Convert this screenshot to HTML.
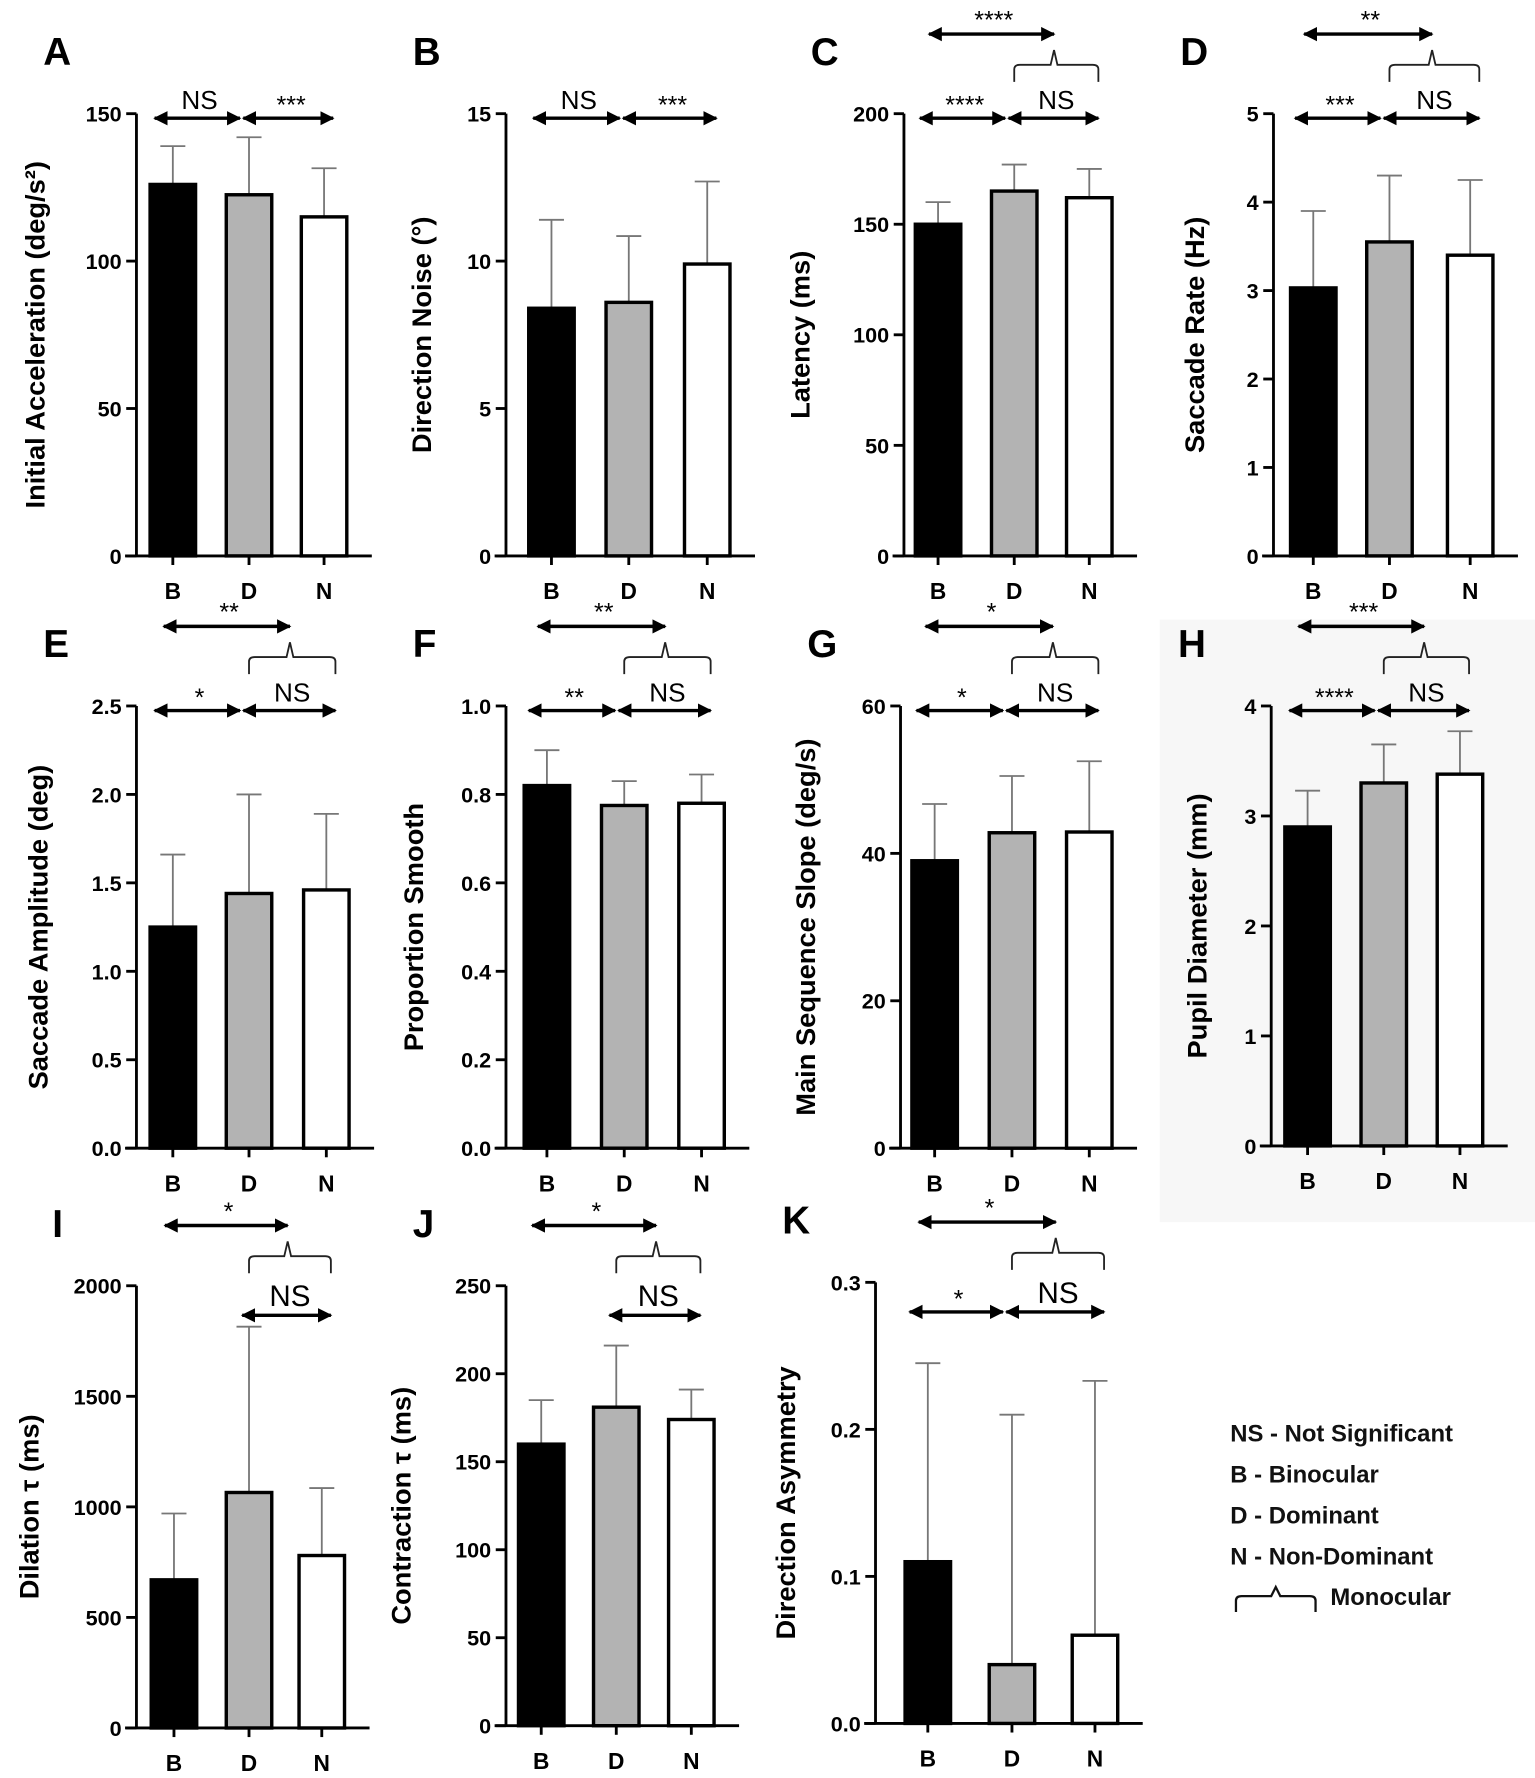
<!DOCTYPE html>
<html><head><meta charset="utf-8"><style>
html,body{margin:0;padding:0;background:#fff;}
svg{display:block;font-family:"Liberation Sans",Arial,sans-serif;}
</style></head><body>
<svg id="fig" width="1535" height="1778" viewBox="0 0 1350 1564" preserveAspectRatio="none" xmlns="http://www.w3.org/2000/svg">
<defs>
<marker id="ah" viewBox="0 0 10 10" refX="9" refY="5" markerWidth="4.2" markerHeight="4.2" orient="auto-start-reverse"><path d="M0,0 L10,5 L0,10 Z" fill="#000"/></marker>
</defs>
<rect x="1020" y="545" width="330" height="530" fill="#f7f7f7"/>
<g id="legend" font-weight="bold" font-size="21" fill="#111">
<text x="1082" y="1268">NS - Not Significant</text>
<text x="1082" y="1304">B - Binocular</text>
<text x="1082" y="1340">D - Dominant</text>
<text x="1082" y="1376">N - Non-Dominant</text>
<path d="M1087,1418 L1087,1408 Q1087,1404 1092,1404 L1118,1404 L1122,1396 L1126,1404 L1152,1404 Q1157,1404 1157,1408 L1157,1418" fill="none" stroke="#111" stroke-width="2"/>
<text x="1170" y="1412">Monocular</text>
</g>
</svg>
<script>
// Data arrays (means and upper error-bar values) per panel
const categories = ['B','D','N'];
const meansA = [126, 122.5, 115];   const errTopA = [139, 142, 131.5];
const meansB = [8.4, 8.6, 9.9];     const errTopB = [11.4, 10.85, 12.7];
const meansC = [150, 165, 162];     const errTopC = [160, 177, 175];
const meansD = [3.03, 3.55, 3.4];   const errTopD = [3.9, 4.3, 4.25];
const meansE = [1.25, 1.44, 1.46];  const errTopE = [1.66, 2.0, 1.89];
const meansF = [0.82, 0.775, 0.78]; const errTopF = [0.90, 0.83, 0.845];
const meansG = [39, 42.8, 42.9];    const errTopG = [46.7, 50.5, 52.5];
const meansH = [2.9, 3.3, 3.38];    const errTopH = [3.23, 3.65, 3.77];
const meansI = [670, 1065, 780];    const errTopI = [970, 1815, 1085];
const meansJ = [160, 181, 174];     const errTopJ = [185, 216, 191];
const meansK = [0.11, 0.04, 0.06];  const errTopK = [0.245, 0.21, 0.233];
const ticksA = ['0','50','100','150'];
const ticksB = ['0','5','10','15'];
const ticksC = ['0','50','100','150','200'];
const ticksD = ['0','1','2','3','4','5'];
const ticksE = ['0.0','0.5','1.0','1.5','2.0','2.5'];
const ticksF = ['0.0','0.2','0.4','0.6','0.8','1.0'];
const ticksG = ['0','20','40','60'];
const ticksH = ['0','1','2','3','4'];
const ticksI = ['0','500','1000','1500','2000'];
const ticksJ = ['0','50','100','150','200','250'];
const ticksK = ['0.0','0.1','0.2','0.3'];

const panels = [
 {id:'A',m:meansA,e:errTopA,t:ticksA,ax:120,cx:[152,219,285],top:100,zero:489,title:'Initial Acceleration (deg/s²)',tx:30,sig:['NS','***'],upper:null},
 {id:'B',m:meansB,e:errTopB,t:ticksB,ax:445,cx:[485,553,622],top:100,zero:489,title:'Direction Noise (°)',tx:370,sig:['NS','***'],upper:null},
 {id:'C',m:meansC,e:errTopC,t:ticksC,ax:795,cx:[825,892,958],top:100,zero:489,title:'Latency (ms)',tx:703,sig:['****','NS'],upper:'****'},
 {id:'D',m:meansD,e:errTopD,t:ticksD,ax:1120,cx:[1155,1222,1293],top:100,zero:489,title:'Saccade Rate (Hz)',tx:1050,sig:['***','NS'],upper:'**'},
 {id:'E',m:meansE,e:errTopE,t:ticksE,ax:120,cx:[152,219,287],top:621,zero:1010,title:'Saccade Amplitude (deg)',tx:33,sig:['*','NS'],upper:'**'},
 {id:'F',m:meansF,e:errTopF,t:ticksF,ax:445,cx:[481,549,617],top:621,zero:1010,title:'Proportion Smooth',tx:363,sig:['**','NS'],upper:'**'},
 {id:'G',m:meansG,e:errTopG,t:ticksG,ax:792,cx:[822,890,958],top:621,zero:1010,title:'Main Sequence Slope  (deg/s)',tx:708,sig:['*','NS'],upper:'*'},
 {id:'H',m:meansH,e:errTopH,t:ticksH,ax:1118,cx:[1150,1217,1284],top:621,zero:1008,title:'Pupil Diameter (mm)',tx:1052,sig:['****','NS'],upper:'***'},
 {id:'I',m:meansI,e:errTopI,t:ticksI,ax:120,cx:[153,219,283],top:1131,zero:1520,title:'Dilation τ (ms)',tx:25,sig:[null,'NS'],upper:'*',big:true},
 {id:'J',m:meansJ,e:errTopJ,t:ticksJ,ax:445,cx:[476,542,608],top:1131,zero:1518,title:'Contraction τ (ms)',tx:352,sig:[null,'NS'],upper:'*',big:true},
 {id:'K',m:meansK,e:errTopK,t:ticksK,ax:770,cx:[816,890,963],top:1128,zero:1516,title:'Direction Asymmetry',tx:690,sig:['*','NS'],upper:'*',big:true}
];
const fills = ['#000','#b3b3b3','#fff'];
const NS='http://www.w3.org/2000/svg';
const svg=document.getElementById('fig');
function mk(tag,attrs,parent){const el=document.createElementNS(NS,tag);for(const k in attrs)el.setAttribute(k,attrs[k]);(parent||svg).appendChild(el);return el;}
function txt(s,attrs,parent){const el=mk('text',attrs,parent);el.textContent=s;return el;}
function arrow(x1,x2,y,g){const l=mk('line',{x1:x1,y1:y,x2:x2,y2:y,stroke:'#000','stroke-width':3,'marker-start':'url(#ah)','marker-end':'url(#ah)'},g);}

panels.forEach(p=>{
 const g=mk('g',{});
 
 
 const vmax=parseFloat(p.t[p.t.length-1]);
 const y=v=>p.zero-(v/vmax)*(p.zero-p.top);
 const L=txt(p.id,{x:p.ax-82+(p.id==='I'?8:0),y:p.top-43,'font-size':34,'font-weight':'bold'},g);
 
 const ya=mk('line',{x1:p.ax,y1:p.top,x2:p.ax,y2:p.zero,stroke:'#000','stroke-width':2.5},g);
 
 const xa=mk('line',{x1:p.ax-10,y1:p.zero,x2:p.cx[2]+42,y2:p.zero,stroke:'#000','stroke-width':2.5},g);
 
 p.t.forEach(t=>{const v=parseFloat(t);const yy=y(v);
  mk('line',{x1:p.ax-9,y1:yy,x2:p.ax,y2:yy,stroke:'#000','stroke-width':2.5},g);
  const tl=txt(t,{x:p.ax-13,y:yy+7,'font-size':19,'font-weight':'bold','text-anchor':'end'},g);
  
 });
 const ym=(p.top+p.zero)/2;
 const T=txt(p.title,{x:p.tx,y:ym,'font-size':24,'font-weight':'bold','text-anchor':'middle',transform:'rotate(-90 '+p.tx+' '+ym+')',dy:'9'},g);
 
 categories.forEach((c,i)=>{
  const cx=p.cx[i];
  mk('line',{x1:cx,y1:p.zero,x2:cx,y2:p.zero+8,stroke:'#000','stroke-width':2.5},g);
  const xl=txt(c,{x:cx,y:p.zero+38,'font-size':20,'font-weight':'bold','text-anchor':'middle'},g);
  
  const eb=mk('line',{x1:cx,y1:y(p.m[i]),x2:cx,y2:y(p.e[i]),stroke:'#777','stroke-width':1.6},g);
  
  mk('line',{x1:cx-11,y1:y(p.e[i]),x2:cx+11,y2:y(p.e[i]),stroke:'#777','stroke-width':1.6},g);
  const b=mk('rect',{x:cx-20,y:y(p.m[i]),width:40,height:p.zero-y(p.m[i]),fill:fills[i],stroke:'#000','stroke-width':3},g);
  
 });
 const B=p.cx[0],D=p.cx[1],N=p.cx[2];
 const ay=p.top+(p.big?26:4);
 const fs=p.big?26:23;
 if(p.sig[0]){arrow(B-16,D-8,ay,g);
  const s=txt(p.sig[0],{x:(B+D)/2-10,y:ay-(p.sig[0]==='NS'?8:4),'font-size':p.sig[0]==='NS'?23:22,'text-anchor':'middle'},g);
  }
 arrow(p.sig[0]?D-5:D-6,N+8,ay,g);
 const s2=txt(p.sig[1],{x:(D+N)/2+4,y:ay-(p.sig[1]==='NS'?8:4),'font-size':p.sig[1]==='NS'?fs:22,'text-anchor':'middle'},g);
 
 if(p.upper){
  const by=p.top-(p.big?26:43), mid=(D+N)/2+2;
  const br=mk('path',{d:`M${D},${by+15} L${D},${by+4} Q${D},${by} ${D+5},${by} L${mid-3},${by} L${mid},${by-13} L${mid+3},${by} L${N+3},${by} Q${N+8},${by} ${N+8},${by+4} L${N+8},${by+15}`,fill:'none',stroke:'#222','stroke-width':1.6},g);
  
  const uy=by-27;
  arrow(B-8,mid,uy,g);
  const u=txt(p.upper,{x:(B+mid)/2-2,y:uy-5,'font-size':22,'text-anchor':'middle'},g);
  
 }
});
</script>
</body></html>
